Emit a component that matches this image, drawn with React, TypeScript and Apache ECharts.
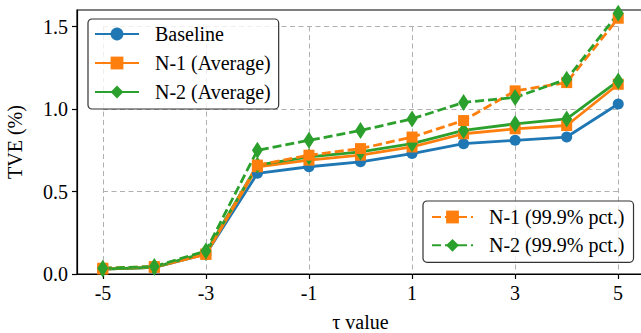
import React, { useEffect, useRef } from "react";
import * as echarts from "echarts";

const tauValues = [-5, -4, -3, -2, -1, 0, 1, 2, 3, 4, 5];
const baseline = [0.03, 0.04, 0.12, 0.61, 0.65, 0.68, 0.73, 0.79, 0.81, 0.83, 1.03];
const n1Average = [0.03, 0.04, 0.12, 0.65, 0.69, 0.72, 0.77, 0.85, 0.88, 0.9, 1.15];
const n2Average = [0.03, 0.04, 0.13, 0.66, 0.71, 0.74, 0.79, 0.87, 0.91, 0.94, 1.17];
const n1Pct = [0.035, 0.045, 0.12, 0.66, 0.72, 0.76, 0.83, 0.93, 1.11, 1.16, 1.55];
const n2Pct = [0.035, 0.045, 0.14, 0.75, 0.81, 0.87, 0.94, 1.04, 1.07, 1.18, 1.58];

const BLUE = "#1f77b4";
const ORANGE = "#ff7f0e";
const GREEN = "#2ca02c";
const FONT = "Liberation Serif";

const pairs = (ys: number[]) => tauValues.map((x, i) => [x, ys[i]]);

export default function App() {
  const ref = useRef<HTMLDivElement>(null);
  useEffect(() => {
    const chart = echarts.init(ref.current!, undefined, { renderer: "svg" });
    const gridTop = 10;
    const gridBottom = 59;
    const plotH = 333 - gridTop - gridBottom;
    const yMax = 1.6;
    const top15 = 333 - gridBottom - (1.5 / yMax) * plotH;

    const mkSeries = (name: string, data: number[], color: string, symbol: string, size: any, dashed: boolean) => ({
      name,
      type: "line",
      xAxisIndex: 0,
      yAxisIndex: 0,
      data: pairs(data),
      symbol,
      symbolSize: size,
      lineStyle: { color, width: 2.8, type: dashed ? [9, 4] : "solid" },
      itemStyle: { color },
      emphasis: { disabled: true },
    });

    const legendText = {
      fontFamily: FONT,
      fontSize: 20,
      color: "#000",
      lineHeight: 20,
      padding: [0, 0, 0, 11],
    };

    chart.setOption({
      animation: false,
      grid: [
        {
          left: 77,
          right: -3,
          top: gridTop,
          bottom: gridBottom,
          show: true,
          borderColor: "#000",
          borderWidth: 1.2,
          backgroundColor: "transparent",
          containLabel: false,
          outerBoundsMode: "none",
        },
        {
          left: 103,
          right: 23,
          top: top15,
          bottom: gridBottom,
          containLabel: false,
          outerBoundsMode: "none",
        },
      ],
      xAxis: [
        {
          gridIndex: 0,
          type: "value",
          min: -5.5,
          max: 5.5,
          axisLine: { show: true, onZero: false, lineStyle: { color: "#000", width: 1.2 } },
          axisTick: { show: false },
          axisLabel: { show: false },
          splitLine: { show: false },
          name: "τ value",
          nameLocation: "middle",
          nameGap: 38,
          nameTextStyle: { fontFamily: FONT, fontSize: 20, color: "#000" },
        },
        {
          gridIndex: 1,
          type: "value",
          min: -5,
          max: 5,
          interval: 2,
          axisLine: { show: false, onZero: false },
          axisTick: { show: true, length: 5, lineStyle: { color: "#000", width: 1.2 } },
          axisLabel: {
            fontFamily: FONT,
            fontSize: 20,
            color: "#000",
            margin: 9,
            formatter: (v: number) => String(v),
          },
          splitLine: { show: true, lineStyle: { color: "#b0b0b0", width: 1, type: [5, 3.5] } },
        },
      ],
      yAxis: [
        {
          gridIndex: 0,
          type: "value",
          min: 0,
          max: yMax,
          axisLine: { show: true, onZero: false, lineStyle: { color: "#000", width: 1.2 } },
          axisTick: { show: false },
          axisLabel: { show: false },
          splitLine: { show: false },
          name: "TVE (%)",
          nameLocation: "middle",
          nameGap: 52,
          nameTextStyle: { fontFamily: FONT, fontSize: 20, color: "#000" },
        },
        {
          gridIndex: 1,
          type: "value",
          min: 0,
          max: 1.5,
          interval: 0.5,
          offset: 26,
          axisLine: { show: false, onZero: false },
          axisTick: { show: true, length: 5, lineStyle: { color: "#000", width: 1.2 } },
          axisLabel: {
            fontFamily: FONT,
            fontSize: 20,
            color: "#000",
            margin: 9,
            formatter: (v: number) => v.toFixed(1),
          },
          splitLine: { show: true, lineStyle: { color: "#b0b0b0", width: 1, type: [5, 3.5] } },
        },
      ],
      legend: [
        {
          data: ["Baseline", "N-1 (Average)", "N-2 (Average)"],
          orient: "vertical",
          left: 88,
          top: 19,
          itemWidth: 44,
          itemHeight: 16,
          itemGap: 9,
          padding: [5, 8, 7, 6],
          backgroundColor: "rgba(255,255,255,0.8)",
          borderColor: "#333",
          borderWidth: 1.2,
          borderRadius: 4,
          textStyle: legendText,
          z: 10,
        },
        {
          data: ["N-1 (99.9% pct.)", "N-2 (99.9% pct.)"],
          orient: "vertical",
          left: 423,
          top: 201,
          itemWidth: 41,
          itemHeight: 16,
          itemGap: 8.3,
          padding: [6, 9, 7, 8],
          backgroundColor: "rgba(255,255,255,0.8)",
          borderColor: "#333",
          borderWidth: 1.2,
          borderRadius: 4,
          textStyle: legendText,
          z: 10,
        },
      ],
      series: [
        mkSeries("Baseline", baseline, BLUE, "circle", 11, false),
        mkSeries("N-1 (Average)", n1Average, ORANGE, "rect", 11, false),
        mkSeries("N-2 (Average)", n2Average, GREEN, "diamond", [11, 17], false),
        mkSeries("N-1 (99.9% pct.)", n1Pct, ORANGE, "rect", 11, true),
        mkSeries("N-2 (99.9% pct.)", n2Pct, GREEN, "diamond", [11, 17], true),
      ],
    });
    return () => chart.dispose();
  }, []);
  return (
    <div
      ref={ref}
      style={{ position: "fixed", left: 0, top: 0, width: 641, height: 333, background: "#fff" }}
    />
  );
}
